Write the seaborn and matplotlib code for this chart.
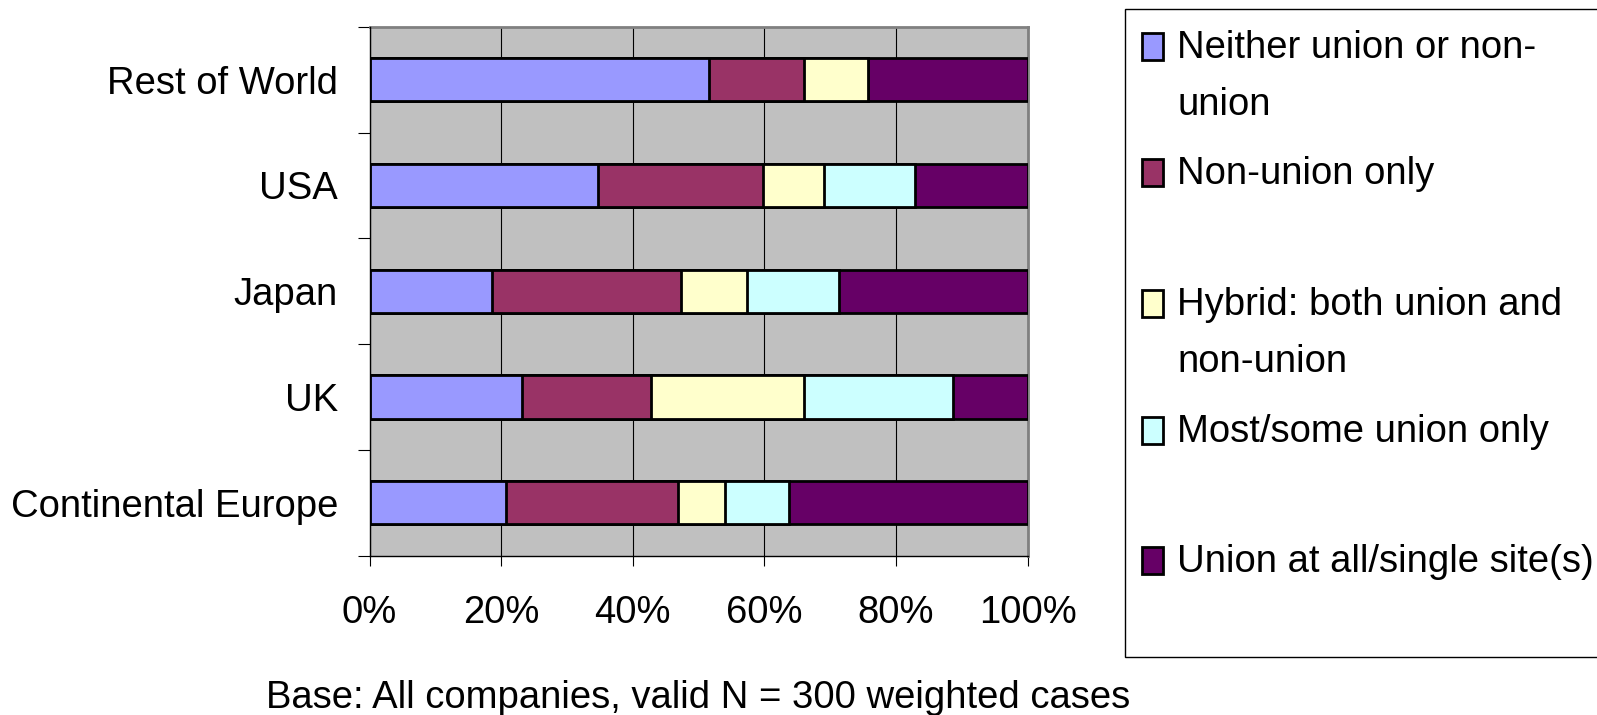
import numpy as np
import pandas as pd
import matplotlib
matplotlib.use("Agg")
import matplotlib.pyplot as plt
from matplotlib.patches import Rectangle
import seaborn as sns

# ---- data -------------------------------------------------------------
regions = ["Rest of World", "USA", "Japan", "UK", "Continental Europe"]
series = [
    "Neither union or non-union",
    "Non-union only",
    "Hybrid: both union and non-union",
    "Most/some union only",
    "Union at all/single site(s)",
]
neither = [51.6, 34.7, 18.6, 23.1, 20.8]
non_union = [14.4, 25.1, 28.7, 19.7, 26.0]
hybrid = [9.8, 9.3, 10.1, 23.2, 7.2]
most_some = [0.0, 13.8, 13.9, 22.7, 9.8]
union_all = [24.2, 17.1, 28.7, 11.3, 36.2]
x_ticks = [0, 20, 40, 60, 80, 100]
x_tick_labels = ["0%", "20%", "40%", "60%", "80%", "100%"]
legend_labels = [
    "Neither union or non-\nunion",
    "Non-union only",
    "Hybrid: both union and\nnon-union",
    "Most/some union only",
    "Union at all/single site(s)",
]
footnote = "Base: All companies, valid N = 300 weighted cases"

colors = ["#9999FF", "#993366", "#FFFFCC", "#CCFFFF", "#660066"]

# ---- styling ----------------------------------------------------------
sns.set_style("white")
plt.rcParams["font.family"] = ["Liberation Sans", "DejaVu Sans"]
plt.rcParams["text.color"] = "black"
plt.rcParams["xtick.color"] = "black"
plt.rcParams["ytick.color"] = "black"
FS = 27.5

W, H = 1597, 715
fig = plt.figure(figsize=(W / 100, H / 100), dpi=100)


def fx(px):
    return px / W


def fy(py):
    return 1 - py / H


left, right, top, bottom = 369.5, 1027.7, 26.7, 555.7
ax = fig.add_axes([fx(left), fy(bottom), fx(right - left), (bottom - top) / H])
ax.set_facecolor("#C0C0C0")

# table with running totals so each layer is drawn from its cumulative end
df = pd.DataFrame({"region": regions})
for name, vals in zip(series, [neither, non_union, hybrid, most_some, union_all]):
    df[name] = vals
cum = df[series].cumsum(axis=1)

for i in reversed(range(len(series))):
    sns.barplot(
        x=cum[series[i]].values,
        y=df["region"],
        order=regions,
        orient="h",
        color=colors[i],
        saturation=1,
        edgecolor="black",
        linewidth=2.0,
        width=0.41,
        errorbar=None,
        ax=ax,
        zorder=3,
    )

ax.set_xlim(0, 100)
ax.set_ylim(4.5, -0.5)
ax.set_xlabel("")
ax.set_ylabel("")

# vertical gridlines
ax.set_axisbelow(True)
ax.set_xticks(x_ticks)
ax.set_xticklabels(x_tick_labels, fontsize=FS)
ax.xaxis.grid(True, color="black", linewidth=0.8)
ax.yaxis.grid(False)
ax.tick_params(axis="x", direction="out", length=7.5, width=0.8, color="black",
               pad=20.5, bottom=True, labelcolor="black")

# category labels centred, tick marks on the category boundaries
ax.set_yticks(range(len(regions)))
ax.set_yticklabels(regions, fontsize=FS)
ax.set_yticks(np.arange(-0.5, len(regions), 1.0), minor=True)
ax.tick_params(axis="y", which="major", length=0, pad=22.7, left=True, labelcolor="black")
ax.tick_params(axis="y", which="minor", direction="out", length=8.3, width=0.8,
               color="black", left=True)

for side in ("top", "right"):
    ax.spines[side].set_color("#808080")
    ax.spines[side].set_linewidth(2.0)
for side in ("left", "bottom"):
    ax.spines[side].set_color("black")
    ax.spines[side].set_linewidth(1.0)
    ax.spines[side].set_zorder(5)

# ---- legend box -------------------------------------------------------
fig.patches.append(
    Rectangle((fx(1125), fy(657)), fx(1605) - fx(1125), (657 - 8.5) / H,
              transform=fig.transFigure, facecolor="white", edgecolor="black",
              linewidth=1.0, zorder=1)
)
baselines = [58, 184, 315, 442, 572]
line_gap = 57
for lab, col, base in zip(legend_labels, colors, baselines):
    fig.patches.append(
        Rectangle((fx(1141.7), fy(base + 2)), fx(21.7), 27 / H,
                  transform=fig.transFigure, facecolor=col, edgecolor="black",
                  linewidth=2.0, zorder=2)
    )
    for k, line in enumerate(lab.split("\n")):
        fig.text(fx(1177), fy(base + k * line_gap), line, fontsize=FS,
                 ha="left", va="baseline", zorder=3)

fig.text(fx(698), fy(708), footnote, fontsize=FS, ha="center", va="baseline")

fig.savefig("out.png", dpi=100)
